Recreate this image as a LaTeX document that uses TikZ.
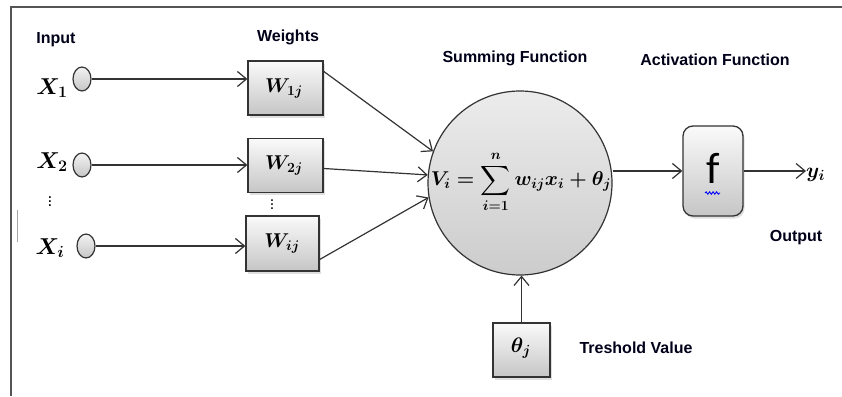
\RequirePackage{fix-cm}
\documentclass[tikz,border=0pt]{standalone}
\usepackage{amsmath}
\usepackage{fontspec}
\setmainfont{Liberation Sans}
\newfontfamily\calib{Carlito}
\usetikzlibrary{arrows.meta,shadows,shapes.geometric,decorations.pathmorphing}
\definecolor{linec}{HTML}{333333}
\definecolor{framec}{HTML}{555555}
\tikzset{
  lbl/.style={font=\fontsize{16}{19}\selectfont\bfseries, text=black!90!blue, inner sep=0pt},
  mth/.style={font=\fontsize{23}{27}\selectfont\boldmath, inner sep=0pt},
  wmth/.style={font=\fontsize{20}{24}\selectfont\boldmath, inner sep=0pt},
  wbox/.style={draw=linec, line width=1.3pt, top color=white!96!gray, bottom color=gray!45,
    minimum width=75pt, minimum height=54pt, inner sep=0pt,
    drop shadow={opacity=0.25, shadow xshift=1.5pt, shadow yshift=-2.5pt}},
  inp/.style={ellipse, draw=linec, line width=1.2pt, top color=white!90!gray, bottom color=gray!45,
    minimum width=18pt, minimum height=24pt, inner sep=0pt},
  sumc/.style={circle, draw=linec, line width=1.2pt, top color=gray!15, bottom color=gray!40,
    minimum size=184pt, inner sep=0pt},
  fbox/.style={rounded corners=10pt, draw=linec, line width=1.3pt, top color=white!96!gray, bottom color=gray!45,
    minimum width=60pt, minimum height=90pt, inner sep=0pt,
    drop shadow={opacity=0.25, shadow xshift=1.5pt, shadow yshift=-2.5pt}},
  arr/.style={draw=linec, line width=1.2pt, -{Straight Barb[length=9pt,width=15pt,line width=1.2pt]}}
}
\begin{document}
\begin{tikzpicture}[x=1pt,y=-1pt]
\useasboundingbox (0,0) rectangle (842,396);
% frame
\draw[framec, line width=1.8pt] (11,396) -- (11,7) -- (842,7);
\draw[gray!70, line width=1pt] (17,210) -- (17,242);

% titles
\node[lbl] (tin) at (56,40) {Input};
\node[lbl] (tw) at (288,37) {Weights};
\node[lbl] (ts) at (515,58) {Summing Function};
\node[lbl] (ta) at (715,60) {Activation Function};
\node[lbl] (to) at (796,238) {Output};
\node[lbl] (tt) at (636,348) {Treshold Value};

% input labels
\node[mth] (lx1) at (52,88) {$X_1$};
\node[mth] (lx2) at (52,162) {$X_2$};
\node[mth, font=\fontsize{17}{20}\selectfont] (ldx) at (50,199) {$\vdots$};
\node[mth] (lxi) at (50,248) {$X_i$};

% input circles
\node[inp] (I1) at (82,79) {};
\node[inp] (I2) at (82,165) {};
\node[inp] (Ii) at (86,246) {};

% weight boxes
\node[wbox] (W1) at (285.5,88) {};
\node[wbox] (W2) at (285.5,165.5) {};
\node[wbox, minimum width=73pt, minimum height=55pt] (Wi) at (282.5,243.5) {};
\node[wmth] (tw1) at (284,88) {$W_{1j}$};
\node[wmth] (tw2) at (284,165) {$W_{2j}$};
\node[wmth] (twi) at (282,243) {$W_{ij}$};
\node[wmth, font=\fontsize{16}{18}\selectfont] (ldw) at (272,202) {$\vdots$};

% summing circle
\node[sumc] (S) at (520,183) {};
\node[wmth, font=\fontsize{20}{24}\selectfont\boldmath] (form) at (521,182)
  {$\displaystyle V_i = \sum_{i=1}^{n} w_{ij}x_i + \theta_j$};

% activation
\node[fbox] (F) at (713,171) {};
\node[inner sep=0pt, font=\calib\fontsize{44}{48}\selectfont] (ff) at (713,168) {f};
\coordinate (sq1) at (705,193);
\coordinate (sq2) at (720,193);
\draw[blue, line width=0.9pt, decorate, decoration={snake, amplitude=1.2pt, segment length=3.5pt}] (sq1) -- (sq2);

% output
\coordinate (yend) at (806,171);
\node[wmth, font=\fontsize{21}{25}\selectfont\boldmath, anchor=west] (y) at (806,175) {$y_i$};

% threshold
\node[wbox, minimum width=57pt, minimum height=54pt] (T) at (521.5,350) {};
\node[wmth, font=\fontsize{21}{25}\selectfont\boldmath] (tth) at (521,348) {$\theta_j$};

% connectors
\draw[arr] (I1.east) -- (I1 -| W1.west);
\draw[arr] (I2.east) -- (I2 -| W2.west);
\draw[arr] (Ii.east) -- (Ii -| Wi.west);
\draw[arr] ([yshift=-11pt]W1.north east) -- (S.160);
\draw[arr] ([yshift=-3pt]W2.east) -- (S.175);
\draw[arr] ([yshift=-16pt]Wi.east) -- (S.189);
\draw[arr] (S.east |- F.west) -- (F.west);
\draw[arr] (F.east) -- (yend);
\draw[arr] (T.north) -- (S.south -| T.north);
\end{tikzpicture}
\end{document}
